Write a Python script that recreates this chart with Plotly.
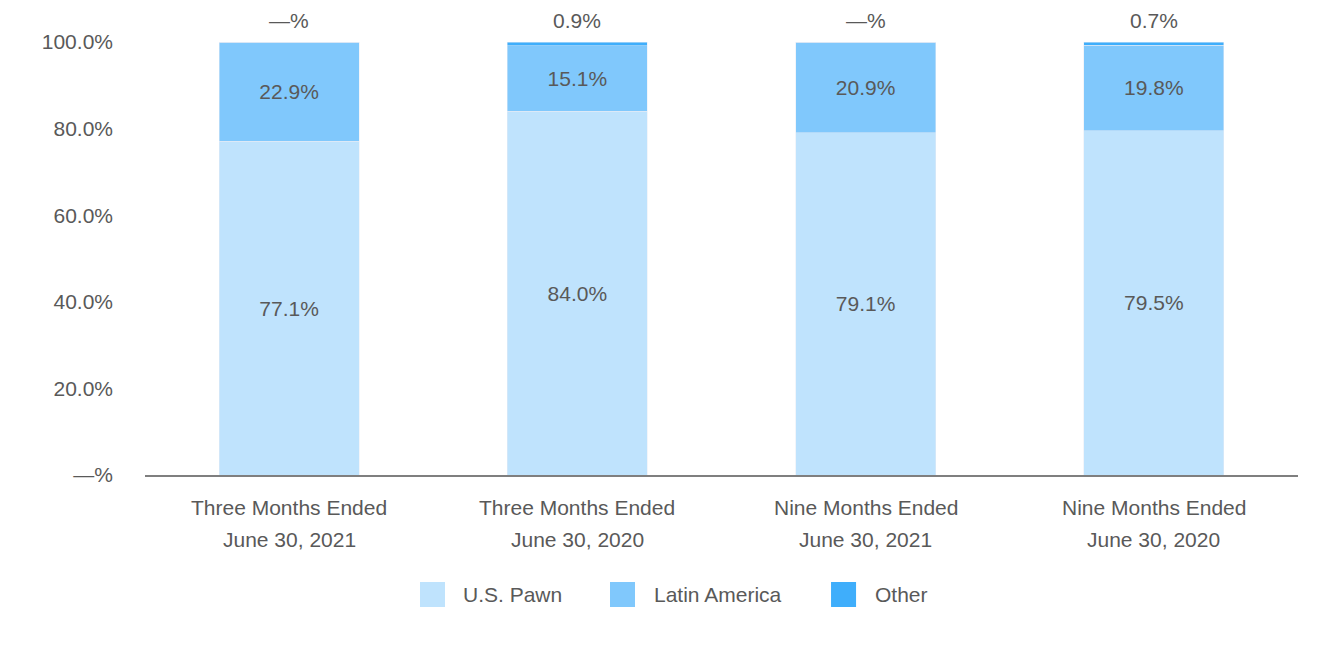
import plotly.graph_objects as go

categories = ["Three Months Ended June 30, 2021", "Three Months Ended June 30, 2020",
              "Nine Months Ended June 30, 2021", "Nine Months Ended June 30, 2020"]
cat_line1 = ["Three Months Ended", "Three Months Ended", "Nine Months Ended", "Nine Months Ended"]
cat_line2 = ["June 30, 2021", "June 30, 2020", "June 30, 2021", "June 30, 2020"]
us_pawn = [77.1, 84.0, 79.1, 79.5]
latin_america = [22.9, 15.1, 20.9, 19.8]
other = [0.0, 0.9, 0.0, 0.7]
other_labels = ["—%", "0.9%", "—%", "0.7%"]
y_ticks = [0, 20, 40, 60, 80, 100]
y_tick_labels = ["—%", "20.0%", "40.0%", "60.0%", "80.0%", "100.0%"]
series_names = ["U.S. Pawn", "Latin America", "Other"]
series_colors = ["#BFE3FD", "#80C8FC", "#3FAEFB"]

FONT = "Liberation Sans, Arial, sans-serif"
TXT = "#595959"
FS = 21

fig = go.Figure()
fig.add_bar(name=series_names[0], x=categories, y=us_pawn, marker_color=series_colors[0],
            text=[f"{v:.1f}%" for v in us_pawn], textposition="inside",
            insidetextanchor="middle", textfont=dict(size=FS, color=TXT, family=FONT),
            hoverinfo="skip", showlegend=False)
fig.add_bar(name=series_names[1], x=categories, y=latin_america, marker_color=series_colors[1],
            text=[f"{v:.1f}%" for v in latin_america], textposition="inside",
            insidetextanchor="middle", textfont=dict(size=FS, color=TXT, family=FONT),
            hoverinfo="skip", showlegend=False)
fig.add_bar(name=series_names[2], x=categories, y=other, marker_color=series_colors[2],
            hoverinfo="skip", showlegend=False)

for c, u, l, o, lab in zip(categories, us_pawn, latin_america, other, other_labels):
    fig.add_annotation(x=c, y=u + l + o, text=lab, showarrow=False, yanchor="bottom",
                       yshift=8, font=dict(size=FS, color=TXT, family=FONT))

# category labels (two lines)
for c, l1, l2 in zip(categories, cat_line1, cat_line2):
    fig.add_annotation(x=c, xref="x", y=-0.074, yref="paper", text=l1, showarrow=False,
                       yanchor="middle", font=dict(size=FS, color=TXT, family=FONT))
    fig.add_annotation(x=c, xref="x", y=-0.150, yref="paper", text=l2, showarrow=False,
                       yanchor="middle", font=dict(size=FS, color=TXT, family=FONT))

# legend (manual, large squares)
leg_x0 = [0.2385, 0.4033, 0.5950]
leg_w = 0.0217
leg_tx = [0.2741, 0.4397, 0.6314]
for name, col, x0, tx in zip(series_names, series_colors, leg_x0, leg_tx):
    fig.add_shape(type="rect", xref="paper", yref="paper", x0=x0, x1=x0 + leg_w,
                  y0=-0.3048, y1=-0.2471, fillcolor=col, line=dict(width=0))
    fig.add_annotation(x=tx, xref="paper", y=-0.2771, yref="paper", text=name,
                       showarrow=False, xanchor="left", yanchor="middle",
                       font=dict(size=FS, color=TXT, family=FONT))

fig.update_layout(
    barmode="stack", bargap=0.515,
    width=1332, height=642,
    margin=dict(l=137, r=42, t=34, b=175),
    paper_bgcolor="white", plot_bgcolor="white",
    font=dict(family=FONT, size=FS, color=TXT),
    showlegend=False,
    xaxis=dict(showline=True, linecolor="#7F7F7F", linewidth=2, ticks="",
               showticklabels=False, fixedrange=True),
    yaxis=dict(range=[0, 100], tickvals=y_ticks, ticktext=y_tick_labels, showgrid=False,
               zeroline=False, showline=False, ticks="", ticklabelstandoff=31,
               tickfont=dict(size=FS, color=TXT, family=FONT), fixedrange=True),
)
fig.write_html("out.html")
